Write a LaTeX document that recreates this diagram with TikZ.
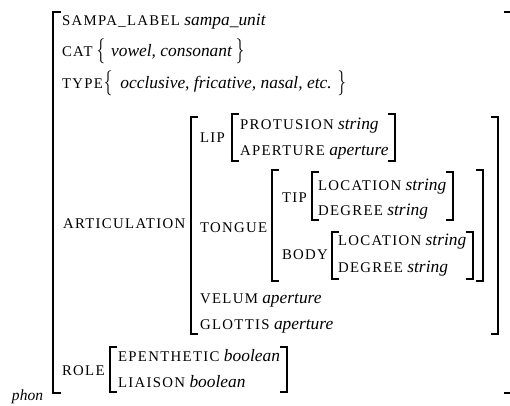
\documentclass[tikz,border=0pt]{standalone}
\usepackage{fontspec}
\usepackage{graphicx}
\setmainfont{Liberation Serif}
\newfontfamily\scfam[LetterSpace=9]{Liberation Serif}
\newcommand{\ft}[1]{{\fontsize{14.8}{17}\scfam #1}}
\newcommand{\vl}[1]{{\itshape #1}}
\newcommand{\mylbr}[3]{\draw[brk] (#1+7,#2) -- (#1,#2) -- (#1,#3) -- (#1+7,#3);}
\newcommand{\myrbr}[3]{\draw[brk] (#1-7,#2) -- (#1,#2) -- (#1,#3) -- (#1-7,#3);}
\newcommand{\LB}{\raisebox{-1.5pt}{\resizebox*{8.5pt}{25pt}{$\{$}}}
\newcommand{\RB}{\raisebox{-1.5pt}{\resizebox*{8.5pt}{25pt}{$\}$}}}
\begin{document}
\begin{tikzpicture}[x=1pt,y=-1pt,
  txt/.style={anchor=base west, inner sep=0pt, outer sep=0pt, font=\fontsize{17.4}{20}\selectfont},
  brk/.style={line width=1.3pt}]
\useasboundingbox (0,0) rectangle (510,405);
% outer
\draw[brk] (61,12) -- (53,12) -- (53,393) -- (61,393);
\draw[brk] (504,12) -- (510,12);
\draw[brk] (504,393) -- (510,393);
\node[txt, font=\fontsize{15.5}{18}\selectfont\itshape] (phon) at (12,400) {phon};
\node[txt] (sampa) at (62,25) {\ft{SAMPA\_LABEL} \vl{sampa\_unit}};
\node[txt] (cat) at (62,56) {\ft{CAT}\kern4pt\LB\kern6pt\vl{vowel, consonant}\kern4pt\RB};
\node[txt] (type) at (62,88) {\ft{TYPE}\kern1pt\LB\kern8pt\vl{occlusive, fricative, nasal, etc.}\kern6pt\RB};
% articulation
\node[txt] (artic) at (63,228) {\ft{ARTICULATION}};
\mylbr{191}{117}{334}
\myrbr{498}{117}{334}
\node[txt] (lip) at (200,142) {\ft{LIP}};
\mylbr{232}{114}{161}
\myrbr{395}{114}{161}
\node[txt] (prot) at (240,129) {\ft{PROTUSION} \vl{string}};
\node[txt] (apert) at (240,155) {\ft{APERTURE} \vl{aperture}};
\node[txt] (tongue) at (200,232) {\ft{TONGUE}};
\mylbr{272}{170}{281}
\myrbr{483}{170}{281}
\node[txt] (tip) at (282,202) {\ft{TIP}};
\mylbr{312}{172}{220}
\myrbr{453}{172}{220}
\node[txt] (loc1) at (318,190) {\ft{LOCATION} \vl{string}};
\node[txt] (deg1) at (318,215) {\ft{DEGREE} \vl{string}};
\node[txt] (body) at (282,259) {\ft{BODY}};
\mylbr{332}{232}{279}
\myrbr{473}{232}{279}
\node[txt] (loc2) at (338,245) {\ft{LOCATION} \vl{string}};
\node[txt] (deg2) at (338,272) {\ft{DEGREE} \vl{string}};
\node[txt] (velum) at (200,303) {\ft{VELUM} \vl{aperture}};
\node[txt] (glottis) at (200,329) {\ft{GLOTTIS} \vl{aperture}};
% role
\node[txt] (role) at (62,375) {\ft{ROLE}};
\mylbr{110}{347}{392}
\myrbr{287}{347}{392}
\node[txt] (epen) at (118,361) {\ft{EPENTHETIC} \vl{boolean}};
\node[txt] (liaison) at (118,387) {\ft{LIAISON} \vl{boolean}};
\end{tikzpicture}
\end{document}
